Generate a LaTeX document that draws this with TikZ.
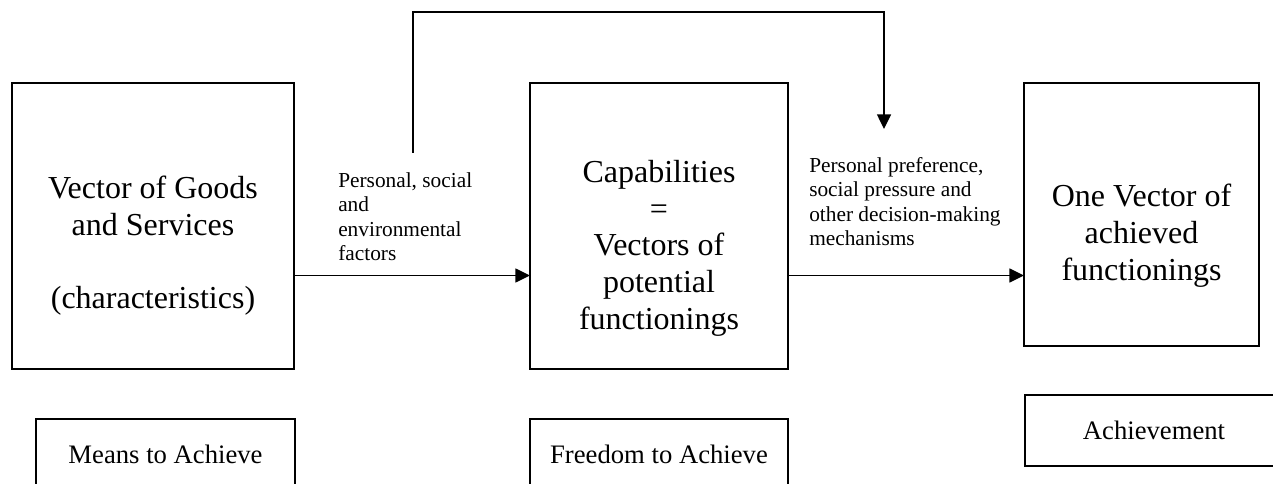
\documentclass[tikz,border=0pt]{standalone}
\usepackage{fontspec}
\setmainfont{Liberation Serif}
\usetikzlibrary{arrows.meta}
\begin{document}
\begin{tikzpicture}[x=0.75pt,y=-0.75pt,
  boxnode/.style={draw=black, line width=1.3pt, rectangle, inner sep=0pt, outer sep=0pt, anchor=north west},
  bigtext/.style={font=\fontsize{24}{27.6}\selectfont, align=center, inner sep=0pt, anchor=north},
  labeltext/.style={font=\fontsize{16}{18.4}\selectfont, align=left, inner sep=0pt, anchor=north west},
  smalltext/.style={font=\fontsize{20}{23}\selectfont},
  conn/.style={line width=1.1pt, -{Triangle[length=11pt,width=10.5pt]}}]
\useasboundingbox (0,0) rectangle (1273,484);
\clip (0,0) rectangle (1273,484);
% main boxes
\node[boxnode, minimum width=211.5pt, minimum height=214.5pt] (b1) at (12,83) {};
\node[boxnode, minimum width=193.5pt, minimum height=214.5pt] (b2) at (530,83) {};
\node[boxnode, minimum width=176.25pt, minimum height=197.25pt] (b3) at (1024,83) {};
% bottom boxes
\node[boxnode, smalltext, minimum width=194.25pt, minimum height=53.25pt] (m1) at (36,419) {Means to Achieve};
\node[boxnode, smalltext, minimum width=193.5pt, minimum height=53.25pt] (m2) at (530,419) {Freedom to Achieve};
\node[boxnode, smalltext, minimum width=193.5pt, minimum height=53.25pt] (m3) at (1025,395) {Achievement};
% texts in main boxes
\node[bigtext] (t1) at (153,172.2) {\strut Vector of Goods\\\strut and Services\\\strut\\\strut (characteristics)};
\node[bigtext] (t2) at (659,156.2) {\strut Capabilities\\\strut =\\\strut Vectors of\\\strut potential\\\strut functionings};
\node[bigtext] (t3) at (1141.5,180.7) {\strut One Vector of\\\strut achieved\\\strut functionings};
% labels
\node[labeltext] (l1) at (338,169.8) {\strut Personal, social\\\strut and\\\strut environmental\\\strut factors};
\node[labeltext] (l2) at (809,154.8) {\strut Personal preference,\\\strut social pressure and\\\strut other decision-making\\\strut mechanisms};
% connectors
\coordinate (ay) at (0,275.5);
\draw[conn] (b1.east |- ay) -- (b2.west |- ay);
\draw[conn] (b2.east |- ay) -- (b3.west |- ay);
\coordinate (fs) at (413,153);
\coordinate (fe) at (884,129);
\coordinate (ft) at (0,12);
\draw[conn] (fs) -- (fs |- ft) -| (fe);
\end{tikzpicture}
\end{document}
